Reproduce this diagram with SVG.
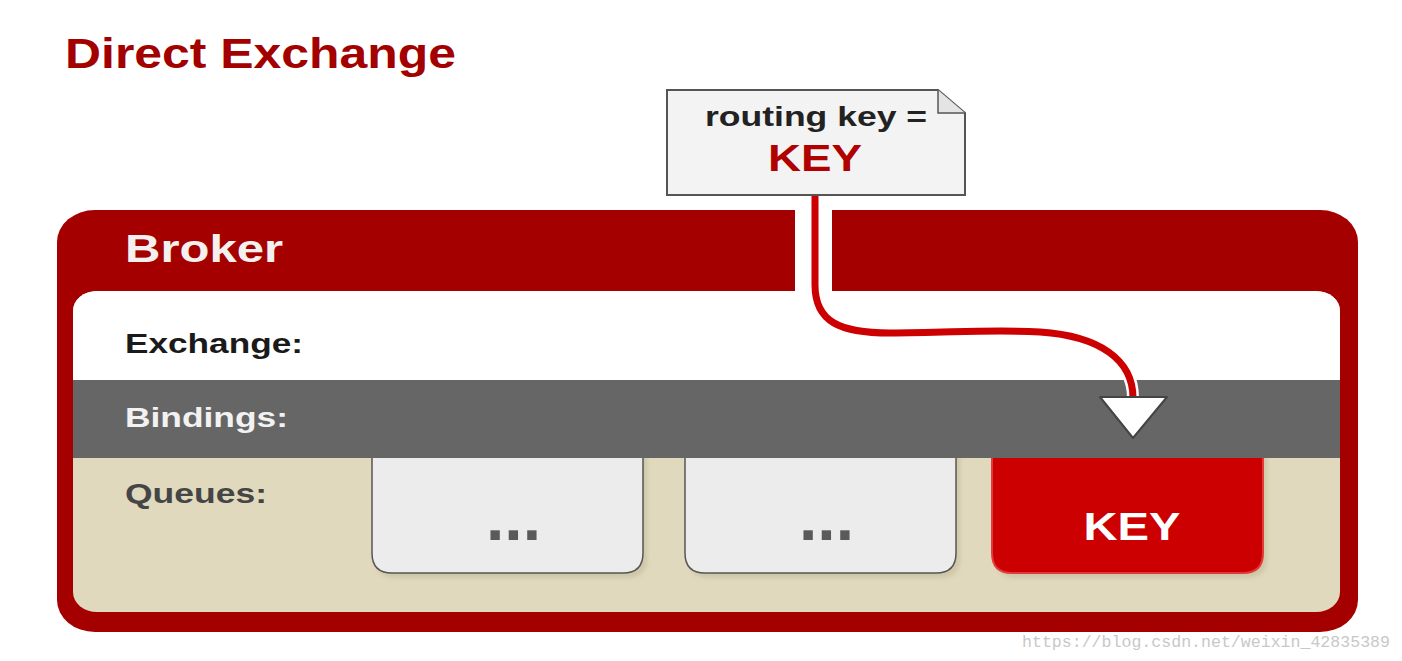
<svg xmlns="http://www.w3.org/2000/svg" width="1402" height="661" viewBox="0 0 1402 661">
  <style>
    .t { font-family: "Liberation Sans", Arial, sans-serif; font-weight: bold; }
    .lbl { font-size: 28px; }
    .q { fill: #ececec; stroke: #555555; stroke-width: 1.5; }
    .qs { fill: #c9c2a3; opacity: 0.8; }
    .dots { font-size: 64px; fill: #5a5a5a; }
  </style>
  <defs>
    <filter id="blur" x="-10%" y="-10%" width="120%" height="130%">
      <feGaussianBlur stdDeviation="2"/>
    </filter>
  </defs>
  <rect x="0" y="0" width="1402" height="661" fill="#ffffff"/>

  <g id="title">
    <text class="t" x="65" y="68" font-size="42" fill="#a30000" textLength="391" lengthAdjust="spacingAndGlyphs">Direct Exchange</text>
  </g>

  <g id="broker">
    <rect x="57" y="210" width="1301" height="422" rx="38" ry="32" fill="#a50000"/>
    <rect x="795" y="205" width="37" height="88" fill="#ffffff"/>
    <text class="t" x="125" y="262" font-size="38" fill="#f4f0f0" textLength="158" lengthAdjust="spacingAndGlyphs">Broker</text>
    <clipPath id="inner">
      <rect x="73" y="291" width="1267" height="321" rx="24" ry="20"/>
    </clipPath>
    <g clip-path="url(#inner)">
      <rect x="73" y="291" width="1267" height="321" fill="#e0d9bd"/>
      <rect x="73" y="291" width="1267" height="89" fill="#ffffff"/>
    </g>
  </g>

  <g id="exchange">
    <text class="t lbl" x="125" y="353" fill="#1a1a1a" textLength="178" lengthAdjust="spacingAndGlyphs">Exchange:</text>
  </g>

  <g id="queues">
    <text class="t lbl" x="125" y="503" fill="#454545" textLength="142" lengthAdjust="spacingAndGlyphs">Queues:</text>
    <g id="queue1">
      <path class="qs" filter="url(#blur)" d="M376,440 H647 V558 Q647,578 627,578 H396 Q376,578 376,558 Z"/>
      <path class="q" d="M372,440 H643 V553 Q643,573 623,573 H392 Q372,573 372,553 Z"/>
      <text class="t dots" x="486" y="540" textLength="55" lengthAdjust="spacingAndGlyphs">...</text>
    </g>
    <g id="queue2">
      <path class="qs" filter="url(#blur)" d="M689,440 H960 V558 Q960,578 940,578 H709 Q689,578 689,558 Z"/>
      <path class="q" d="M685,440 H956 V553 Q956,573 936,573 H705 Q685,573 685,553 Z"/>
      <text class="t dots" x="799" y="540" textLength="55" lengthAdjust="spacingAndGlyphs">...</text>
    </g>
    <g id="queue3">
      <path class="qs" filter="url(#blur)" d="M996,440 H1267 V558 Q1267,578 1247,578 H1016 Q996,578 996,558 Z"/>
      <path d="M992,440 H1263 V553 Q1263,573 1243,573 H1012 Q992,573 992,553 Z" fill="#cc0000" stroke="#e23a3a" stroke-width="2"/>
      <text class="t" x="1132" y="540" font-size="38" fill="#ffffff" text-anchor="middle" textLength="97" lengthAdjust="spacingAndGlyphs">KEY</text>
    </g>
  </g>

  <g id="bindings">
    <rect x="73" y="380" width="1267" height="78" fill="#666666"/>
    <text class="t lbl" x="125" y="427" fill="#f2f2f2" textLength="163" lengthAdjust="spacingAndGlyphs">Bindings:</text>
  </g>

  <g id="connectors">
    <path d="M815,195 V285 C815,322 840,333 890,333 C950,333 990,329 1040,332 C1100,336 1133,360 1133,398" fill="none" stroke="#ffffff" stroke-width="12"/>
    <path d="M815,195 V285 C815,322 840,333 890,333 C950,333 990,329 1040,332 C1100,336 1133,360 1133,398" fill="none" stroke="#cc0000" stroke-width="7"/>
    <polygon points="1100,397 1167,397 1133,438" fill="#ffffff" stroke="#444444" stroke-width="2" stroke-linejoin="round"/>
  </g>

  <g id="message">
    <path d="M667,90 H938 L965,113 V195 H667 Z" fill="#f3f3f3" stroke="#555555" stroke-width="2"/>
    <path d="M938,90 V113 H965" fill="#e4e4e4" stroke="#555555" stroke-width="1.5"/>
    <text class="t" x="816" y="126" font-size="27" fill="#222222" text-anchor="middle" textLength="222" lengthAdjust="spacingAndGlyphs">routing key =</text>
    <text class="t" x="815" y="171" font-size="36" fill="#b00000" text-anchor="middle" textLength="94" lengthAdjust="spacingAndGlyphs">KEY</text>
  </g>

  <g id="watermark">
    <text x="1022" y="647" font-family="Liberation Mono, monospace" font-size="16.6" fill="#c8c8c8" textLength="368" lengthAdjust="spacingAndGlyphs">https://blog.csdn.net/weixin_42835389</text>
  </g>
</svg>
